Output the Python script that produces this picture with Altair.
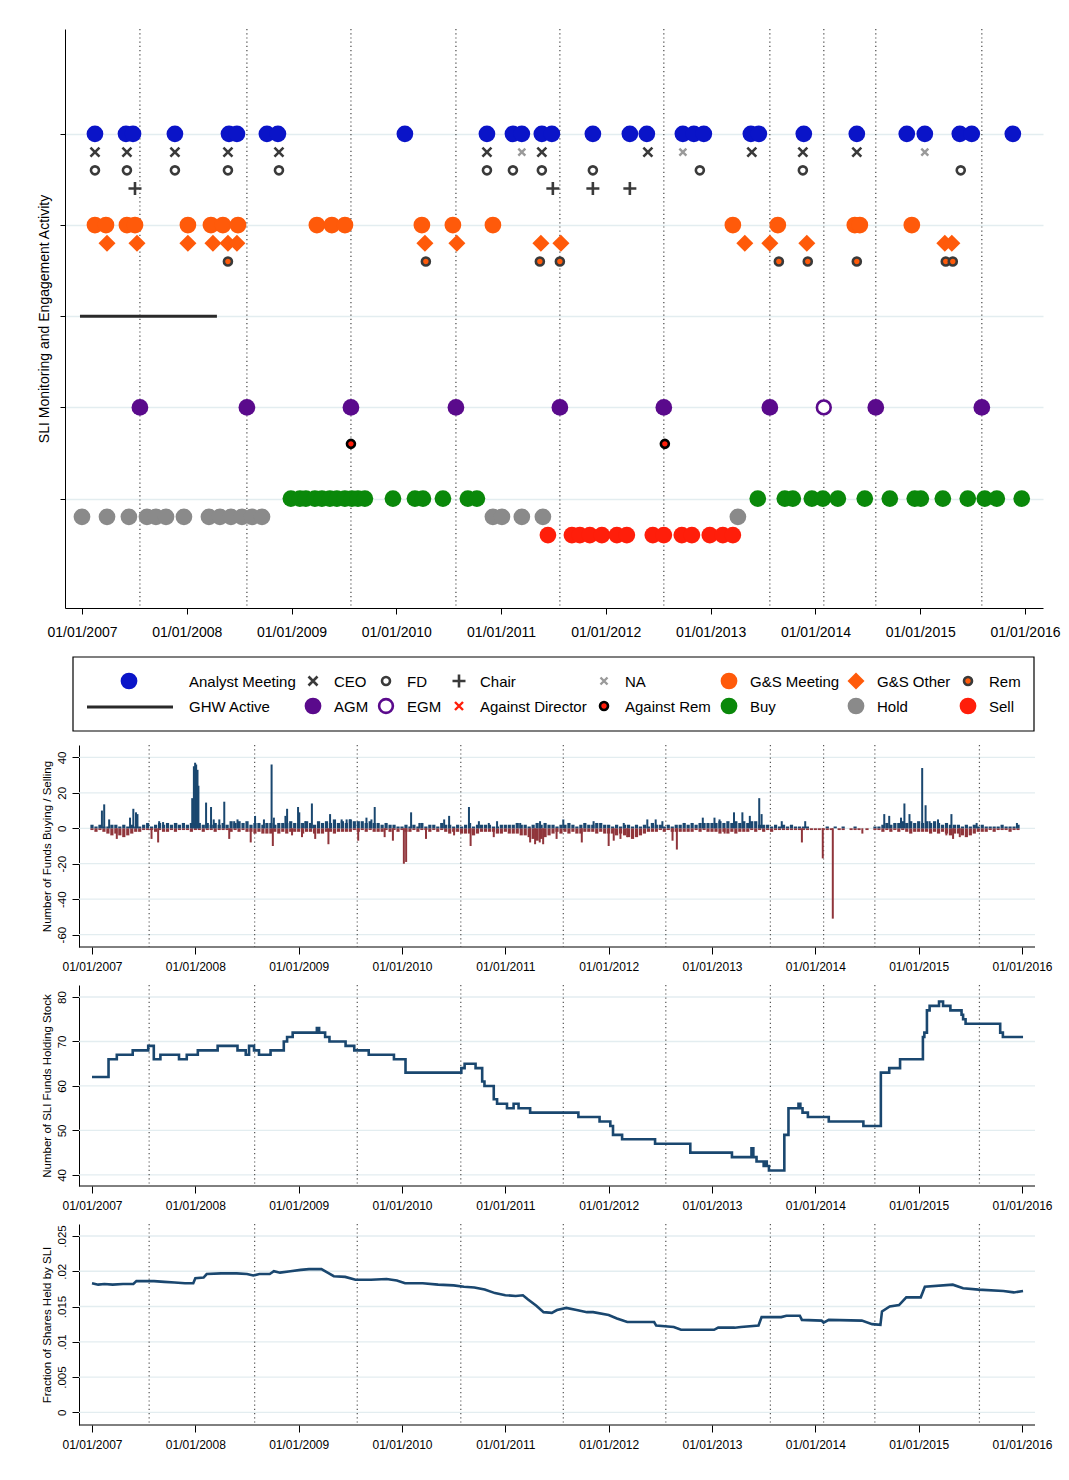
import altair as alt
import pandas as pd

FONT = "Liberation Sans"
BLUE = "#0a14c8"
ORANGE = "#ff5a0a"
PURPLE = "#5a0a8c"
GREEN = "#0a880a"
GRAY = "#8a8a8a"
RED = "#ff1e0a"
DARK = "#3a3a3a"
LIGHT = "#9a9a9a"
NAVY = "#1a476f"
MAROON = "#90353b"
GRID = "#e3edf0"
DOT = "#555555"
X_PATH = "M-1,-1L1,1M-1,1L1,-1"
PLUS_PATH = "M-1,0L1,0M0,-1L0,1"

YEARS = list(range(2007, 2017))

# ---------------- top panel: event dates (decimal years) ----------------
analyst_meeting = [2007.124, 2007.420, 2007.487, 2007.887, 2008.403, 2008.479, 2008.765, 2008.870,
                   2010.082, 2010.865, 2011.113, 2011.198, 2011.389, 2011.485, 2011.876, 2012.229,
                   2012.391, 2012.735, 2012.840, 2012.935, 2013.384, 2013.460, 2013.889, 2014.395,
                   2014.872, 2015.044, 2015.378, 2015.492, 2015.884]
ceo = [2007.124, 2007.429, 2007.887, 2008.393, 2008.880, 2010.865, 2011.389, 2012.401,
       2013.393, 2013.880, 2014.395]
fd = [2007.124, 2007.429, 2007.887, 2008.393, 2008.880, 2010.865, 2011.113, 2011.389,
      2011.876, 2012.897, 2013.880, 2015.387]
chair = [2007.506, 2011.494, 2011.876, 2012.229]
na_attendee = [2011.198, 2012.735, 2015.044]
gs_meeting = [2007.124, 2007.229, 2007.429, 2007.506, 2008.011, 2008.231, 2008.345, 2008.489,
              2009.242, 2009.385, 2009.510, 2010.244, 2010.540, 2010.922, 2013.212, 2013.641,
              2014.376, 2014.424, 2014.920]
gs_other = [2007.239, 2007.525, 2008.011, 2008.250, 2008.393, 2008.479, 2010.273, 2010.578,
            2011.380, 2011.571, 2013.326, 2013.565, 2013.918, 2015.235, 2015.302]
rem = [2008.393, 2010.282, 2011.370, 2011.561, 2013.651, 2013.927, 2014.395, 2015.244, 2015.311]
ghw_active = [(2006.981, 2008.288)]
agm = [2007.553, 2008.574, 2009.567, 2010.569, 2011.561, 2012.553, 2013.565, 2014.576, 2015.588]
egm = [2014.080]
against_director = []
against_rem = [2009.567, 2012.563]
buy = [2008.994, 2009.080, 2009.137, 2009.223, 2009.290, 2009.366, 2009.433, 2009.509, 2009.576,
       2009.634, 2009.700, 2009.968, 2010.178, 2010.254, 2010.445, 2010.683, 2010.769, 2013.450,
       2013.708, 2013.784, 2013.966, 2014.071, 2014.214, 2014.471, 2014.710, 2014.948, 2015.006,
       2015.216, 2015.454, 2015.616, 2015.731, 2015.969]
hold = [2007.000, 2007.239, 2007.448, 2007.620, 2007.706, 2007.802, 2007.973, 2008.212, 2008.317,
        2008.422, 2008.527, 2008.622, 2008.718, 2010.922, 2011.008, 2011.198, 2011.399, 2013.260]
sell = [2011.447, 2011.676, 2011.752, 2011.847, 2011.962, 2012.105, 2012.200, 2012.448, 2012.553,
        2012.725, 2012.821, 2012.992, 2013.116, 2013.212]

EVENTS = {
    "Analyst Meeting": analyst_meeting, "CEO": ceo, "FD": fd, "Chair": chair, "NA": na_attendee,
    "G&S Meeting": gs_meeting, "G&S Other": gs_other, "Rem": rem, "AGM": agm, "EGM": egm,
    "Against Director": against_director, "Against Rem": against_rem,
    "Buy": buy, "Hold": hold, "Sell": sell,
}
LEVEL = {"Analyst Meeting": 5, "CEO": 4.8, "NA": 4.8, "FD": 4.6, "Chair": 4.4,
         "G&S Meeting": 4, "G&S Other": 3.8, "Rem": 3.6, "GHW Active": 3,
         "AGM": 2, "EGM": 2, "Against Director": 1.8, "Against Rem": 1.6,
         "Buy": 1, "Hold": 0.8, "Sell": 0.6}

STYLE = {
    "Analyst Meeting": dict(shape="circle", fill=BLUE, size=280),
    "CEO": dict(shape=X_PATH, stroke=DARK, strokeWidth=2.6, size=81),
    "FD": dict(shape="circle", stroke=DARK, strokeWidth=2.6, size=64),
    "Chair": dict(shape=PLUS_PATH, stroke=DARK, strokeWidth=2.6, size=169),
    "NA": dict(shape=X_PATH, stroke=LIGHT, strokeWidth=2.4, size=49),
    "G&S Meeting": dict(shape="circle", fill=ORANGE, size=280),
    "G&S Other": dict(shape="diamond", fill=ORANGE, size=290),
    "Rem": dict(shape="circle", fill=ORANGE, stroke=DARK, strokeWidth=2.6, size=64),
    "AGM": dict(shape="circle", fill=PURPLE, size=280),
    "EGM": dict(shape="circle", fill="white", stroke=PURPLE, strokeWidth=2.6, size=190),
    "Against Director": dict(shape=X_PATH, stroke=RED, strokeWidth=2.4, size=64),
    "Against Rem": dict(shape="circle", fill=RED, stroke="black", strokeWidth=2.6, size=64),
    "Buy": dict(shape="circle", fill=GREEN, size=280),
    "Hold": dict(shape="circle", fill=GRAY, size=280),
    "Sell": dict(shape="circle", fill=RED, size=280),
}

LEGEND_ROW1 = ["Analyst Meeting", "CEO", "FD", "Chair", "NA", "G&S Meeting", "G&S Other", "Rem"]
LEGEND_ROW2 = ["GHW Active", "AGM", "EGM", "Against Director", "Against Rem", "Buy", "Hold", "Sell"]

# ---------------- panel 2: number of funds buying / selling ----------------
buy_base = {
    2007: "21211221212112312323232323", 2008: "33232323243434233233233343",
    2009: "33432434353435444343323221", 2010: "12121312213221212312222112",
    2011: "22232212323221223212322332", 2012: "21212212121322121223232333",
    2013: "33434343434422212121211110", 2014: "00010101001000011232334343",
    2015: "43434323222121212111121112",
}
sell_base = {
    2007: "12123434543221112122121112", 2008: "11211211121212232333232322",
    2009: "23223332232222121212221212", 2010: "12212112121232233343222233",
    2011: "23334456765432323233222323", 2012: "33434565432221212222221212",
    2013: "22323232221212121111111111", 2014: "11111011011101011212121232",
    2015: "22232323433454322212111211",
}
buy_spike_t = [2007.096, 2007.118, 2007.166, 2007.368, 2007.400, 2007.426, 2007.440, 2007.650,
               2007.688, 2007.816, 2007.970, 2007.986, 2007.998, 2008.008, 2008.021, 2008.030,
               2008.104, 2008.152, 2008.178, 2008.232, 2008.280, 2008.376, 2008.408, 2008.578,
               2008.664, 2008.738, 2008.760, 2008.872, 2008.888, 2008.994, 2009.006, 2009.064,
               2009.128, 2009.304, 2009.416, 2009.464, 2009.496, 2009.656, 2009.704, 2009.736,
               2010.088, 2010.168, 2010.408, 2010.456, 2010.648, 2010.744, 2010.840, 2010.920,
               2011.144, 2011.336, 2011.561, 2011.854, 2012.146, 2012.374, 2012.455, 2012.520,
               2012.911, 2013.024, 2013.073, 2013.213, 2013.294, 2013.366, 2013.457, 2013.480,
               2013.675, 2013.902, 2014.667, 2014.715, 2014.829, 2014.862, 2014.911, 2015.034,
               2015.067, 2015.106, 2015.187, 2015.317, 2015.561, 2015.951]
buy_spike_v = [10, 13.5, 5, 6, 11, 9, 8, 4,
               3.5, 3, 17, 35, 37, 36, 33, 24,
               14.5, 12, 5, 5, 15, 4, 5, 7,
               5, 36, 6, 7, 11, 12, 9, 4,
               14, 8, 5, 5, 5, 6, 5, 12,
               9, 3, 5, 7, 12, 4, 3, 4,
               3, 4, 5, 4, 3, 5, 5, 4,
               6, 6, 5, 9, 9, 7, 17, 8,
               4, 4, 8, 7, 6, 14, 8, 34,
               13, 4, 5, 8, 3, 3]
sell_spike_t = [2007.240, 2007.576, 2007.640, 2008.328, 2008.536, 2008.750, 2008.936, 2009.032,
                2009.160, 2009.288, 2009.576, 2009.832, 2009.912, 2010.018, 2010.040, 2010.232,
                2010.504, 2010.664, 2010.888, 2011.240, 2011.288, 2011.333, 2011.366, 2011.496,
                2011.740, 2012.000, 2012.049, 2012.114, 2012.179, 2012.618, 2012.660, 2013.122,
                2013.870, 2014.072, 2014.169, 2014.455, 2015.268, 2015.333, 2015.398]
sell_spike_v = [6, 6, 8, 6, 8, 10, 4, 5,
                6, 9, 7, 5, 7, 20, 19, 6,
                4, 10, 5, 8, 9, 8, 9, 6,
                8, 10, 7, 6, 5, 7, 12, 3,
                8, 17, 51, 3, 4, 6, 5]

# ---------------- panel 3: number of SLI funds holding stock (step) ----------------
p3_t = [2007.000, 2007.160, 2007.240, 2007.394, 2007.544, 2007.598, 2007.662, 2007.842, 2007.917,
        2008.024, 2008.216, 2008.408, 2008.488, 2008.520, 2008.568, 2008.616, 2008.728, 2008.856,
        2008.888, 2008.942, 2009.176, 2009.198, 2009.256, 2009.298, 2009.454, 2009.538, 2009.678,
        2009.922, 2010.034, 2010.574, 2010.606, 2010.712, 2010.776, 2010.798, 2010.888, 2010.920,
        2011.016, 2011.080, 2011.128, 2011.240, 2011.707, 2011.912, 2012.016, 2012.042, 2012.130,
        2012.449, 2012.790, 2013.193, 2013.382, 2013.400, 2013.431, 2013.500, 2013.512, 2013.530,
        2013.551, 2013.700, 2013.740, 2013.837, 2013.855, 2013.876, 2013.928, 2014.130, 2014.465,
        2014.634, 2014.715, 2014.820, 2015.041, 2015.055, 2015.080, 2015.106, 2015.197, 2015.236,
        2015.307, 2015.415, 2015.430, 2015.454, 2015.789, 2015.815, 2016.010]
p3_v = [62, 66, 67, 68, 69, 66, 67, 66, 67,
        68, 69, 68, 67, 69, 68, 67, 68, 70,
        71, 72, 73, 72, 71, 70, 69, 68, 67,
        66, 63, 64, 65, 64, 61, 60, 57, 56,
        55, 56, 55, 54, 53, 52, 51, 49, 48,
        47, 45, 44, 46, 44, 43, 42, 43, 42,
        41, 49, 55, 56, 55, 54, 53, 52, 51,
        63, 64, 66, 71, 72, 77, 78, 79, 78,
        77, 76, 75, 74, 72, 71, 71]

# ---------------- panel 4: fraction of shares held by SLI ----------------
p4_t = [2007.00, 2007.06, 2007.12, 2007.20, 2007.30, 2007.40, 2007.43, 2007.60, 2007.70, 2007.80,
        2007.90, 2007.98, 2008.00, 2008.08, 2008.11, 2008.25, 2008.40, 2008.50, 2008.56, 2008.62,
        2008.72, 2008.76, 2008.82, 2008.92, 2009.02, 2009.10, 2009.22, 2009.28, 2009.34, 2009.45,
        2009.55, 2009.70, 2009.85, 2009.95, 2010.03, 2010.20, 2010.35, 2010.50, 2010.60, 2010.70,
        2010.80, 2010.90, 2011.00, 2011.10, 2011.17, 2011.22, 2011.30, 2011.37, 2011.45, 2011.50,
        2011.59, 2011.69, 2011.79, 2011.85, 2012.00, 2012.08, 2012.18, 2012.44, 2012.46, 2012.63,
        2012.70, 2013.02, 2013.06, 2013.22, 2013.28, 2013.45, 2013.48, 2013.67, 2013.72, 2013.85,
        2013.87, 2014.06, 2014.08, 2014.13, 2014.45, 2014.55, 2014.63, 2014.645, 2014.72, 2014.81,
        2014.88, 2015.02, 2015.06, 2015.33, 2015.43, 2015.58, 2015.82, 2015.92, 2016.01]
p4_v = [.0183, .0181, .0182, .0181, .0182, .0182, .0186, .0186, .0185, .0184,
        .0183, .0183, .0190, .0191, .0196, .0197, .0197, .0196, .0194, .0196,
        .0196, .0200, .0198, .0200, .0202, .0203, .0203, .0198, .0193, .0192,
        .0188, .0188, .0189, .0187, .0183, .0183, .0181, .0180, .0178, .0177,
        .0174, .0169, .0166, .0165, .0166, .0160, .0151, .0142, .0141, .0145,
        .0148, .0145, .0142, .0142, .0138, .0133, .0128, .0128, .0123, .0121,
        .0117, .0117, .0120, .0120, .0121, .0123, .0135, .0135, .0137, .0137,
        .0131, .0130, .0127, .0131, .0130, .0125, .0124, .0143, .0150, .0152,
        .0163, .0163, .0178, .0181, .0176, .0174, .0172, .0170, .0172]

# ======================= build =======================
meetings = sorted(agm + egm)

# ---- top panel ----
TOP_W, TOP_H = 978, 579
x_top = alt.Scale(domain=[2006.838, 2016.172], nice=False, zero=False)
y_top = alt.Scale(domain=[-0.2, 6.15], nice=False, zero=False)
x_top_axis = alt.Axis(values=YEARS, labelExpr="'01/01/' + datum.value", labelFontSize=14,
                      tickSize=6, labelPadding=11, grid=False, title=None)
y_top_axis = alt.Axis(values=[1, 2, 3, 4, 5], labels=False, tickSize=5, grid=True,
                      gridColor=GRID, gridWidth=1.5, title="SLI Monitoring and Engagement Activity",
                      titleFontSize=14, titleFontWeight="normal", titlePadding=8)
XT = lambda f: alt.X(f, scale=x_top, axis=x_top_axis)
YT = lambda f: alt.Y(f, scale=y_top, axis=y_top_axis)


def mark_kwargs(style):
    kw = dict(shape=style["shape"], size=style["size"], opacity=1)
    if "fill" in style:
        kw["filled"] = True
        kw["fill"] = style["fill"]
    else:
        kw["filled"] = False
    if "stroke" in style:
        kw["stroke"] = style["stroke"]
        kw["strokeWidth"] = style["strokeWidth"]
    else:
        kw["strokeWidth"] = 0
    return kw


top_layers = [
    alt.Chart(pd.DataFrame({"t": meetings})).mark_rule(
        color=DOT, strokeDash=[1.2, 3], strokeWidth=1.3).encode(x=XT("t:Q")),
    alt.Chart(pd.DataFrame({"t": [s for s, e in ghw_active], "t2": [e for s, e in ghw_active],
                            "y": LEVEL["GHW Active"]})).mark_rule(
        color="#2a2a2a", strokeWidth=3).encode(x=XT("t:Q"), x2="t2:Q", y=YT("y:Q")),
]
for kind, dates in EVENTS.items():
    if not dates:
        continue
    df = pd.DataFrame({"t": dates, "y": LEVEL[kind]})
    top_layers.append(alt.Chart(df).mark_point(**mark_kwargs(STYLE[kind])).encode(
        x=XT("t:Q"), y=YT("y:Q")))
top = alt.layer(*top_layers).properties(width=TOP_W, height=TOP_H)

# ---- legend ----
LEG_W, LEG_H = 978, 81
COL_SYM_X = [64, 248, 321, 394, 539, 664, 791, 903]
COL_LAB_X = [124, 269, 342, 415, 560, 685, 812, 924]
ROW_Y = [31, 56]
lx = alt.Scale(domain=[0, LEG_W], nice=False, zero=False)
ly = alt.Scale(domain=[LEG_H, 0], nice=False, zero=False)
leg_layers = [
    alt.Chart(pd.DataFrame({"x": [8], "x2": [969], "y": [6], "y2": [80]})).mark_rect(
        fill="white", stroke="black", strokeWidth=1.2).encode(
        x=alt.X("x:Q", scale=lx, axis=None), x2="x2:Q",
        y=alt.Y("y:Q", scale=ly, axis=None), y2="y2:Q"),
]
labels_rows = []
for r, row in enumerate([LEGEND_ROW1, LEGEND_ROW2]):
    for c, name in enumerate(row):
        labels_rows.append({"x": COL_LAB_X[c], "y": ROW_Y[r], "label": name})
        if name == "GHW Active":
            leg_layers.append(alt.Chart(pd.DataFrame({"x": [22], "x2": [108], "y": [ROW_Y[r]]})).mark_rule(
                color="#2a2a2a", strokeWidth=3).encode(
                x=alt.X("x:Q", scale=lx, axis=None), x2="x2:Q", y=alt.Y("y:Q", scale=ly, axis=None)))
        else:
            leg_layers.append(alt.Chart(pd.DataFrame({"x": [COL_SYM_X[c]], "y": [ROW_Y[r] - 1]})).mark_point(
                **mark_kwargs(STYLE[name])).encode(
                x=alt.X("x:Q", scale=lx, axis=None), y=alt.Y("y:Q", scale=ly, axis=None)))
leg_layers.append(alt.Chart(pd.DataFrame(labels_rows)).mark_text(
    align="left", baseline="middle", fontSize=15, font=FONT, color="black").encode(
    x=alt.X("x:Q", scale=lx, axis=None), y=alt.Y("y:Q", scale=ly, axis=None), text="label:N"))
legend = alt.layer(*leg_layers).properties(width=LEG_W, height=LEG_H)

# ---- lower panels ----
LOW_W = 970
X_LEFT, X_RIGHT = 2006.874, 2016.1258
x_low = alt.Scale(domain=[2006.7387, 2016.1258], nice=False, zero=False)
x_low_axis = alt.Axis(values=YEARS, labelExpr="'01/01/' + datum.value", labelFontSize=12,
                      tickSize=7, labelPadding=7, domain=False, grid=False, title=None)
XL = lambda f: alt.X(f, scale=x_low, axis=x_low_axis)


def lower_panel(height, ydomain, yvalues, title, label_expr, data_layers):
    ysc = alt.Scale(domain=ydomain, nice=False, zero=False)
    yax = alt.Axis(values=yvalues, labelExpr=label_expr, labelAngle=270, labelAlign="center",
                   labelBaseline="bottom", labelFontSize=11.5, labelPadding=5, tickSize=7,
                   offset=-14, grid=False, title=title, titleFontSize=11.5,
                   titleFontWeight="normal", titlePadding=4)
    YL = lambda f: alt.Y(f, scale=ysc, axis=yax)
    layers = [
        alt.Chart(pd.DataFrame({"v": yvalues, "x0": X_LEFT, "x1": X_RIGHT})).mark_rule(
            color=GRID, strokeWidth=1.3).encode(x=XL("x0:Q"), x2="x1:Q", y=YL("v:Q")),
        alt.Chart(pd.DataFrame({"t": meetings})).mark_rule(
            color=DOT, strokeDash=[1.2, 3], strokeWidth=1.2).encode(x=XL("t:Q")),
    ]
    layers += [fn(XL, YL) for fn in data_layers]
    layers.append(alt.Chart(pd.DataFrame({"x0": [X_LEFT], "x1": [X_RIGHT]})).mark_rule(
        color="black", strokeWidth=1).encode(x=XL("x0:Q"), x2="x1:Q", y=alt.value(height)))
    return alt.layer(*layers).properties(width=LOW_W, height=height)


def series_from_base(base, sign):
    ts, vs = [], []
    for yr, s in base.items():
        for i, ch in enumerate(s):
            ts.append(yr + i / len(s))
            vs.append(sign * int(ch))
    return ts, vs


bb_t, bb_v = series_from_base(buy_base, 1)
sb_t, sb_v = series_from_base(sell_base, -1)
buy_base_df = pd.DataFrame({"t": bb_t, "v": bb_v, "z": 0})
sell_base_df = pd.DataFrame({"t": sb_t, "v": sb_v, "z": 0})
buy_spike_df = pd.DataFrame({"t": buy_spike_t, "v": buy_spike_v, "z": 0})
sell_spike_df = pd.DataFrame({"t": sell_spike_t, "v": [-v for v in sell_spike_v], "z": 0})


def bars(df, color, width):
    return lambda XL, YL: alt.Chart(df).mark_rule(color=color, strokeWidth=width).encode(
        x=XL("t:Q"), y=YL("v:Q"), y2="z:Q")


p2 = lower_panel(
    202, [-67, 47], [-60, -40, -20, 0, 20, 40], "Number of Funds Buying / Selling", "'' + datum.value",
    [bars(sell_base_df, MAROON, 3.2), bars(buy_base_df, NAVY, 3.2),
     bars(sell_spike_df, MAROON, 2), bars(buy_spike_df, NAVY, 2)])

p3 = lower_panel(
    201, [37.5, 82.7], [40, 50, 60, 70, 80], "Number of SLI Funds Holding Stock", "'' + datum.value",
    [lambda XL, YL: alt.Chart(pd.DataFrame({"t": p3_t, "v": p3_v})).mark_line(
        color=NAVY, strokeWidth=2.6, interpolate="step-after").encode(x=XL("t:Q"), y=YL("v:Q"))])

p4 = lower_panel(
    201, [-0.0018, 0.0267], [0, 0.005, 0.01, 0.015, 0.02, 0.025], "Fraction of Shares Held by SLI",
    "datum.value == 0 ? '0' : replace('' + datum.value, '0.', '.')",
    [lambda XL, YL: alt.Chart(pd.DataFrame({"t": p4_t, "v": p4_v})).mark_line(
        color=NAVY, strokeWidth=2.6).encode(x=XL("t:Q"), y=YL("v:Q"))])

chart = alt.vconcat(top, legend, p2, p3, p4, spacing=12).properties(
    padding={"left": 29, "top": 20, "right": 0, "bottom": 4}
).configure_view(stroke=None).configure_axis(
    labelFont=FONT, titleFont=FONT, labelColor="black", titleColor="black",
    tickColor="black", domainColor="black"
)

chart.save("out.html", embed_options={"renderer": "svg", "actions": False})
